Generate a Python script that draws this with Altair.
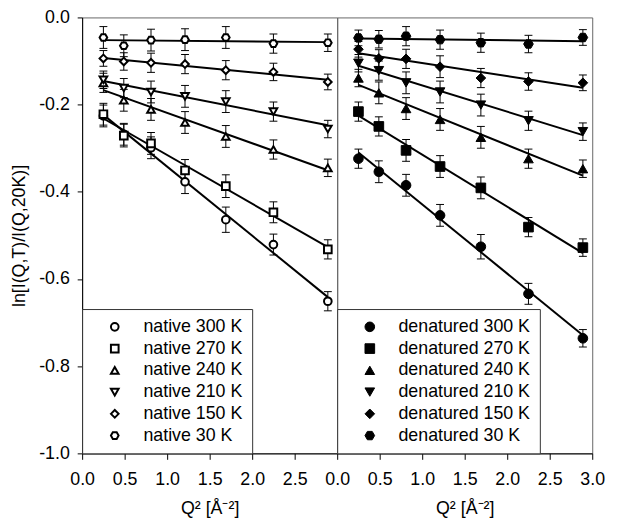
import altair as alt
import pandas as pd

# Q^2 values (Å^-2)
q2 = [0.25, 0.49, 0.81, 1.21, 1.69, 2.25, 2.89]
temps = ["300 K", "270 K", "240 K", "210 K", "150 K", "30 K"]

native = {
    "300 K": [-0.226, -0.268, -0.299, -0.377, -0.464, -0.521, -0.651],
    "270 K": [-0.222, -0.271, -0.289, -0.351, -0.387, -0.447, -0.532],
    "240 K": [-0.150, -0.190, -0.211, -0.241, -0.273, -0.303, -0.345],
    "210 K": [-0.143, -0.162, -0.171, -0.181, -0.193, -0.216, -0.256],
    "150 K": [-0.094, -0.101, -0.104, -0.107, -0.121, -0.125, -0.148],
    "30 K":  [-0.046, -0.065, -0.052, -0.051, -0.046, -0.060, -0.058],
}
native_err = {
    "300 K": [0.025, 0.025, 0.025, 0.027, 0.029, 0.024, 0.022],
    "270 K": [0.025, 0.026, 0.025, 0.025, 0.026, 0.024, 0.022],
    "240 K": [0.022, 0.025, 0.025, 0.025, 0.025, 0.022, 0.020],
    "210 K": [0.020, 0.022, 0.025, 0.025, 0.025, 0.022, 0.020],
    "150 K": [0.018, 0.020, 0.022, 0.022, 0.022, 0.020, 0.018],
    "30 K":  [0.025, 0.025, 0.025, 0.025, 0.025, 0.022, 0.020],
}
denat = {
    "300 K": [-0.324, -0.354, -0.385, -0.454, -0.526, -0.634, -0.736],
    "270 K": [-0.216, -0.250, -0.305, -0.342, -0.391, -0.481, -0.528],
    "240 K": [-0.139, -0.173, -0.209, -0.234, -0.275, -0.324, -0.347],
    "210 K": [-0.105, -0.122, -0.150, -0.171, -0.201, -0.237, -0.262],
    "150 K": [-0.073, -0.094, -0.095, -0.113, -0.139, -0.147, -0.150],
    "30 K":  [-0.047, -0.050, -0.043, -0.051, -0.058, -0.061, -0.046],
}
denat_err = {
    "300 K": [0.022, 0.025, 0.025, 0.025, 0.028, 0.024, 0.020],
    "270 K": [0.022, 0.022, 0.025, 0.025, 0.025, 0.022, 0.020],
    "240 K": [0.020, 0.025, 0.025, 0.025, 0.025, 0.022, 0.020],
    "210 K": [0.020, 0.022, 0.025, 0.025, 0.025, 0.022, 0.020],
    "150 K": [0.018, 0.020, 0.022, 0.025, 0.022, 0.020, 0.018],
    "30 K":  [0.018, 0.020, 0.022, 0.022, 0.022, 0.020, 0.018],
}

HEX = "M-0.5,-0.87L0.5,-0.87L1,0L0.5,0.87L-0.5,0.87L-1,0Z"
SHAPES = ["circle", "square", "triangle-up", "triangle-down", "diamond", HEX]
FONT = "Liberation Sans"
Y_TITLE = "ln[I(Q,T)/I(Q,20K)]"
X_TITLE = "Q² [Å⁻²]"


def frame(group, series, errs):
    rows = []
    for t in temps:
        for x, y, e in zip(q2, series[t], errs[t]):
            rows.append({"q2": x, "y": y, "err": e, "label": f"{group} {t}"})
    return pd.DataFrame(rows)


def panel(df, group, filled, show_y, xvals):
    domain = [f"{group} {t}" for t in temps]
    xs = alt.Scale(domain=[0, 3], nice=False)
    ys = alt.Scale(domain=[-1, 0], nice=False)
    xax = alt.Axis(values=xvals, format=".1f", title=X_TITLE)
    if show_y:
        yax = alt.Axis(values=[0, -0.2, -0.4, -0.6, -0.8, -1.0], title=Y_TITLE,
                       labelExpr="replace(format(datum.value, '.1f'), '−', '-')")
    else:
        yax = None

    def X():
        return alt.X("q2:Q", scale=xs, axis=xax)

    def Y(field):
        if yax is None:
            return alt.Y(field, scale=ys, axis=None)
        return alt.Y(field, scale=ys, axis=yax)

    base = alt.Chart(df)
    eb = base.transform_calculate(lo="datum.y - datum.err", hi="datum.y + datum.err")
    rule = eb.mark_rule(color="black", strokeWidth=1).encode(x=X(), y=Y("lo:Q"), y2="hi:Q")
    cap_lo = eb.mark_tick(orient="horizontal", size=8, thickness=1, color="black", opacity=1).encode(x=X(), y=Y("lo:Q"))
    cap_hi = eb.mark_tick(orient="horizontal", size=8, thickness=1, color="black", opacity=1).encode(x=X(), y=Y("hi:Q"))
    line = base.transform_regression("q2", "y", groupby=["label"]).mark_line(
        color="black", strokeWidth=2).encode(x=X(), y=Y("y:Q"), detail="label:N")

    if filled:
        pts_mark = dict(filled=True, fill="black", stroke="black", strokeWidth=1, size=95, opacity=1)
        leg_sw, leg_size = 1, 95
    else:
        pts_mark = dict(filled=False, fill="white", stroke="black", strokeWidth=2, size=60, opacity=1)
        leg_sw, leg_size = 2, 60

    legend = alt.Legend(orient="bottom-left", offset=0, strokeColor="#333333", fillColor="white",
                        padding=9, labelFont=FONT, labelFontSize=18, labelColor="black",
                        symbolOffset=15, labelOffset=20, rowPadding=4, symbolSize=leg_size,
                        symbolStrokeWidth=leg_sw, labelLimit=300)
    pts = base.mark_point(**pts_mark).encode(
        x=X(), y=Y("y:Q"),
        shape=alt.Shape("label:N", title=None, scale=alt.Scale(domain=domain, range=SHAPES),
                        sort=domain, legend=legend),
    )
    return alt.layer(rule, cap_lo, cap_hi, line, pts).properties(width=258, height=441)


left = panel(frame("native", native, native_err), "native", False, True, [0, 0.5, 1.0, 1.5, 2.0, 2.5])
right = panel(frame("denatured", denat, denat_err), "denatured", True, False, [0, 0.5, 1.0, 1.5, 2.0, 2.5, 3.0])

chart = alt.hconcat(left, right, spacing=0, bounds="flush").resolve_scale(shape="independent").properties(
    autosize=alt.AutoSizeParams(type="none"),
    padding={"left": 75, "top": 4, "right": 536, "bottom": 511},
).configure_view(stroke="#666666", strokeWidth=1).configure_axis(
    labelFont=FONT, titleFont=FONT, labelFontSize=18, titleFontSize=18, titleFontWeight="normal",
    labelColor="black", titleColor="black", tickColor="black", domainColor="black", grid=False,
    labelFlush=False,
).configure_axisX(labelPadding=11, titlePadding=12, tickSize=6).configure_axisY(
    labelPadding=8, titlePadding=10, tickSize=5)

chart.save("out.html", embed_options={"renderer": "svg", "actions": False})
